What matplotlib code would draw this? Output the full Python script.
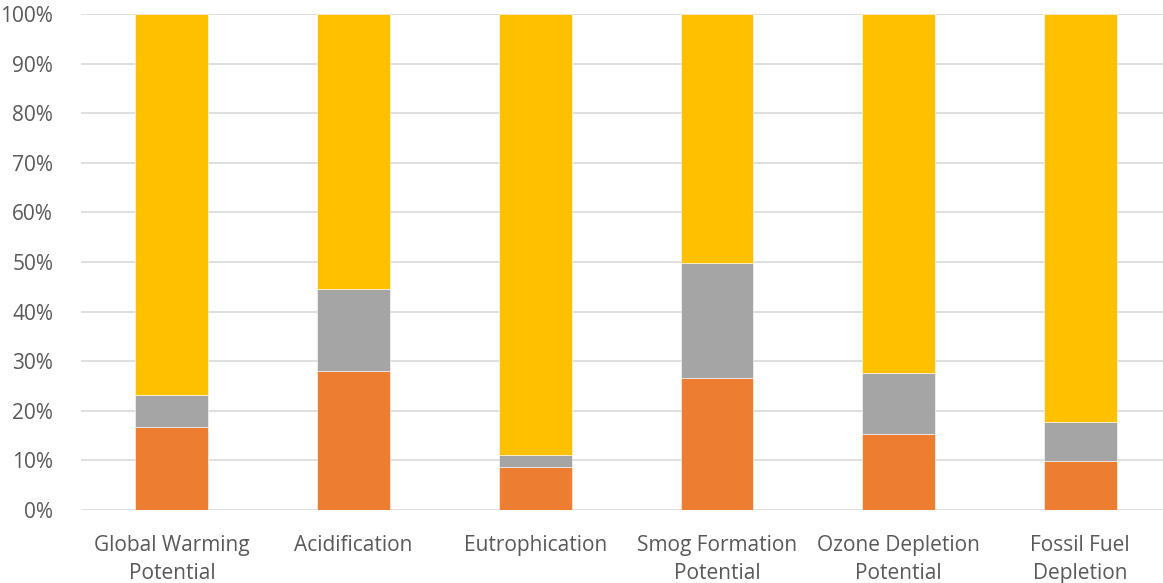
import matplotlib.pyplot as plt
from matplotlib.ticker import PercentFormatter

categories = ["Global Warming\nPotential", "Acidification", "Eutrophication",
              "Smog Formation\nPotential", "Ozone Depletion\nPotential",
              "Fossil Fuel\nDepletion"]
# shares in percent, stacked bottom to top
orange_vals = [16.7, 28.0, 8.7, 26.6, 15.3, 9.9]
gray_vals = [6.5, 16.6, 2.4, 23.2, 12.3, 7.8]
yellow_vals = [100 - o - g for o, g in zip(orange_vals, gray_vals)]

plt.rcParams['font.family'] = ['Open Sans', 'DejaVu Sans']

fig = plt.figure(figsize=(11.63, 5.83), dpi=100)
ax = fig.add_axes([81 / 1163, 73 / 583, 1090 / 1163, 496 / 583])

x = range(len(categories))
w = 0.4
ax.bar(x, orange_vals, w, color="#ED7D31", edgecolor="white", linewidth=0.4, zorder=3)
ax.bar(x, gray_vals, w, bottom=orange_vals, color="#A5A5A5",
       edgecolor="white", linewidth=0.4, zorder=3)
bottoms = [o + g for o, g in zip(orange_vals, gray_vals)]
ax.bar(x, yellow_vals, w, bottom=bottoms, color="#FFC000",
       edgecolor="white", linewidth=0.4, zorder=3)

ax.set_xlim(-0.5, 5.5)
ax.set_ylim(0, 100)
ax.set_yticks(range(0, 101, 10))
ax.yaxis.set_major_formatter(PercentFormatter(decimals=0))
ax.set_xticks(list(x))
ax.set_xticklabels(categories, linespacing=1.45)

ax.grid(axis="y", color="#D9D9D9", linewidth=1.2, zorder=0)
for s in ax.spines.values():
    s.set_visible(False)
ax.tick_params(axis="both", length=0, labelsize=15, colors="#595959")
ax.tick_params(axis="x", pad=18)
ax.tick_params(axis="y", pad=20)

fig.savefig("out.png", dpi=100)
